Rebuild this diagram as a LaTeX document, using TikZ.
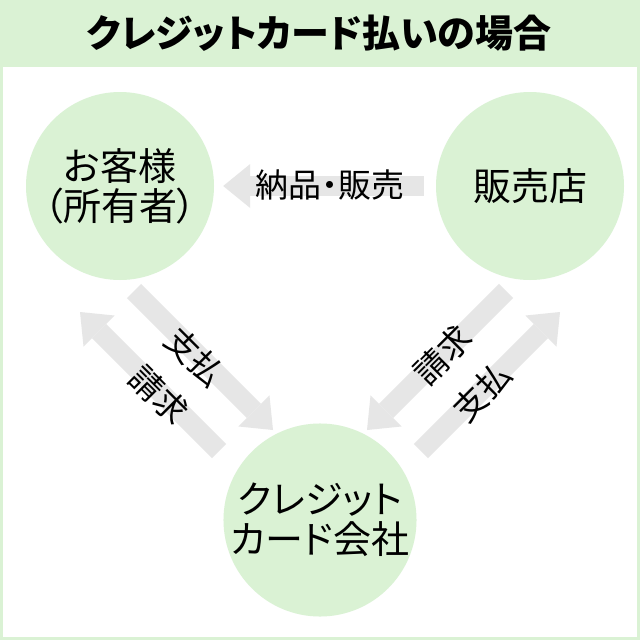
\documentclass[tikz,border=0pt]{standalone}
\usepackage{fontspec}
\setmainfont{Noto Sans CJK JP}[RawFeature=+palt]
\usetikzlibrary{arrows.meta}
\definecolor{leaf}{RGB}{218,242,212}
\definecolor{arrowgray}{RGB}{230,230,230}
\begin{document}
\begin{tikzpicture}[x=1pt,y=-1pt,
  party/.style={circle, fill=leaf, minimum size=188pt, inner sep=0pt, align=center, font=\fontsize{38}{40}\selectfont},
  flow/.style={draw=arrowgray, line width=20pt, -{Triangle[width=44pt,length=27pt,line width=0pt]}},
  flowlabel/.style={font=\fontsize{33}{36}\selectfont, inner sep=0pt},
  headline/.style={font=\bfseries\fontsize{38}{40}\selectfont, inner sep=0pt}]
\useasboundingbox (0,0) rectangle (640,640);
\fill[leaf] (0,0) rectangle (640,640);
\fill[white] (3,67) rectangle (637,637);
\node[headline] (head) at (319,33) {クレジットカード払いの場合};
\node[party] (cust) at (120,186) {お客様\\（所有者）};
\node[party] (shop) at (530,186) {販売店};
\node[party] (card) at (320,520) {クレジット\\カード会社};
\draw[flow, shorten <=12pt, shorten >=9pt] (shop.west) -- (cust.east);
\coordinate (l1s) at (134,291); \coordinate (l1e) at (273,430);
\coordinate (l2s) at (219,451); \coordinate (l2e) at (80,312);
\coordinate (r1s) at (506,291); \coordinate (r1e) at (367,430);
\coordinate (r2s) at (421,451); \coordinate (r2e) at (560,312);
\draw[flow] (l1s) -- (l1e);
\draw[flow] (l2s) -- (l2e);
\draw[flow] (r1s) -- (r1e);
\draw[flow] (r2s) -- (r2e);
\node[flowlabel] (goods) at (330,185) {納品・販売};
\node[flowlabel, rotate=-45] (lpay) at (195,357) {支払};
\node[flowlabel, rotate=-45] (lbill) at (159,395) {請求};
\node[flowlabel, rotate=45] (rbill) at (443,355) {請求};
\node[flowlabel, rotate=45] (rpay) at (482,392) {支払};
\end{tikzpicture}
\end{document}
